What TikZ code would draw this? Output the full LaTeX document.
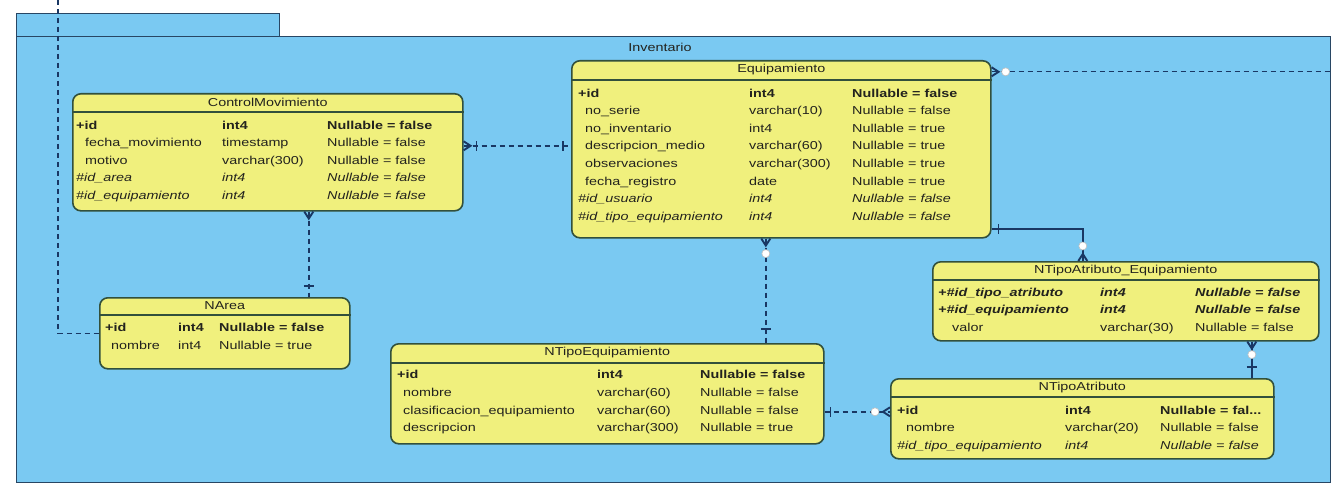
\documentclass[tikz,border=0pt]{standalone}
\usepackage{fontspec}
\setmainfont{Liberation Sans}[FakeStretch=1.25]
\usetikzlibrary{decorations.markings}
\definecolor{pkgfill}{RGB}{122,201,242}
\definecolor{pkgline}{RGB}{40,70,100}
\definecolor{tabfill}{RGB}{240,240,125}
\definecolor{tabline}{RGB}{50,80,60}
\definecolor{connline}{RGB}{25,55,100}
\definecolor{inktext}{RGB}{35,35,30}
\tikzset{
  package/.style={draw=pkgline,fill=pkgfill,line width=1.2pt,anchor=north west,inner sep=0pt},
  entity/.style={draw=tabline,fill=tabfill,line width=1.6pt,rounded corners=8pt,anchor=north west,inner sep=0pt},
  entitytitle/.style={text=inktext,inner sep=0pt,font=\fontsize{11.5}{14}\selectfont},
  entityrows/.style={text=inktext,anchor=north west,inner sep=0pt,font=\fontsize{11.5}{17.6}\selectfont},
  headrule/.style={draw=tabline,line width=1.4pt},
  conn/.style={draw=connline,line width=1.4pt},
  dashconn/.style={conn,dash pattern=on 5pt off 4pt},
  marker/.style={solid,draw=connline,line width=1.9pt},
  ringmark/.style={solid,draw=white!75!black,fill=white,line width=0.6pt},
  foot start/.style={postaction={decorate,decoration={markings,
    mark=at position 0.01pt with {\draw[marker] (0pt,4.5pt) -- (7pt,0pt) -- (0pt,-4.5pt);}}}},
  foot end/.style={postaction={decorate,decoration={markings,
    mark=at position -0.01pt with {\draw[marker] (0pt,4.5pt) -- (-7pt,0pt) -- (0pt,-4.5pt);}}}},
  bar at/.style={postaction={decorate,decoration={markings,
    mark=at position #1 with {\draw[marker,line width=1.4pt] (0pt,-5pt) -- (0pt,5pt);}}}},
  ring at/.style={postaction={decorate,decoration={markings,
    mark=at position #1 with {\draw[ringmark] (0pt,0pt) circle (4pt);}}}}
}

\begin{document}
\begin{tikzpicture}[x=1pt,y=-1pt]
  \useasboundingbox[fill=white] (0,0) rectangle (1335,484);

  % package Inventario
  \node[package,minimum width=263pt,minimum height=23pt] (pkg-tab) at (16,13) {};
  \node[package,minimum width=1314pt,minimum height=446pt] (pkg) at (16,36) {};
  \node[entitytitle] (pkg-label) at (660,47) {Inventario};

  % ControlMovimiento
  \node[entity,minimum width=390pt,minimum height=117pt] (cm) at (72,93) {};
  \node[entitytitle] (cm-title) at ([yshift=-9.5pt]cm.north) {ControlMovimiento};
  \draw[headrule] ([yshift=-19pt]cm.north west) -- ([yshift=-19pt]cm.north east);
  \node[entityrows] (cm-rows) at ([xshift=4pt,yshift=-23.5pt]cm.north west) {%
    \begin{tabular}{@{}p{146pt}@{}p{105pt}@{}l@{}}
      \bfseries +id & \bfseries int4 & \bfseries Nullable = false\\
      \hspace*{9pt}fecha\_movimiento & timestamp & Nullable = false\\
      \hspace*{9pt}motivo & varchar(300) & Nullable = false\\
      \itshape \#id\_area & \itshape int4 & \itshape Nullable = false\\
      \itshape \#id\_equipamiento & \itshape int4 & \itshape Nullable = false
    \end{tabular}};

  % Equipamiento
  \node[entity,minimum width=419pt,minimum height=177pt] (eq) at (571,60) {};
  \node[entitytitle] (eq-title) at ([yshift=-10pt]eq.north) {Equipamiento};
  \draw[headrule] ([yshift=-20pt]eq.north west) -- ([yshift=-20pt]eq.north east);
  \node[entityrows] (eq-rows) at ([xshift=7pt,yshift=-24.6pt]eq.north west) {%
    \begin{tabular}{@{}p{171pt}@{}p{103pt}@{}l@{}}
      \bfseries +id & \bfseries int4 & \bfseries Nullable = false\\
      \hspace*{7pt}no\_serie & varchar(10) & Nullable = false\\
      \hspace*{7pt}no\_inventario & int4 & Nullable = true\\
      \hspace*{7pt}descripcion\_medio & varchar(60) & Nullable = true\\
      \hspace*{7pt}observaciones & varchar(300) & Nullable = true\\
      \hspace*{7pt}fecha\_registro & date & Nullable = true\\
      \itshape \#id\_usuario & \itshape int4 & \itshape Nullable = false\\
      \itshape \#id\_tipo\_equipamiento & \itshape int4 & \itshape Nullable = false
    \end{tabular}};

  % NArea
  \node[entity,minimum width=250pt,minimum height=71pt] (narea) at (99,297) {};
  \node[entitytitle] (narea-title) at ([yshift=-9pt]narea.north) {NArea};
  \draw[headrule] ([yshift=-18pt]narea.north west) -- ([yshift=-18pt]narea.north east);
  \node[entityrows] (narea-rows) at ([xshift=6pt,yshift=-22.4pt]narea.north west) {%
    \begin{tabular}{@{}p{73pt}@{}p{41pt}@{}l@{}}
      \bfseries +id & \bfseries int4 & \bfseries Nullable = false\\
      \hspace*{6pt}nombre & int4 & Nullable = true
    \end{tabular}};

  % NTipoEquipamiento
  \node[entity,minimum width=433pt,minimum height=100pt] (nte) at (390,343) {};
  \node[entitytitle] (nte-title) at ([yshift=-10pt]nte.north) {NTipoEquipamiento};
  \draw[headrule] ([yshift=-20pt]nte.north west) -- ([yshift=-20pt]nte.north east);
  \node[entityrows] (nte-rows) at ([xshift=7pt,yshift=-23.4pt]nte.north west) {%
    \begin{tabular}{@{}p{200pt}@{}p{103pt}@{}l@{}}
      \bfseries +id & \bfseries int4 & \bfseries Nullable = false\\
      \hspace*{6pt}nombre & varchar(60) & Nullable = false\\
      \hspace*{6pt}clasificacion\_equipamiento & varchar(60) & Nullable = false\\
      \hspace*{6pt}descripcion & varchar(300) & Nullable = true
    \end{tabular}};

  % NTipoAtributo_Equipamiento
  \node[entity,minimum width=386pt,minimum height=79pt] (ntae) at (932,261) {};
  \node[entitytitle] (ntae-title) at ([yshift=-9.5pt]ntae.north) {NTipoAtributo\_Equipamiento};
  \draw[headrule] ([yshift=-19pt]ntae.north west) -- ([yshift=-19pt]ntae.north east);
  \node[entityrows] (ntae-rows) at ([xshift=6pt,yshift=-22.6pt]ntae.north west) {%
    \begin{tabular}{@{}p{162pt}@{}p{95pt}@{}l@{}}
      \bfseries\itshape +\#id\_tipo\_atributo & \bfseries\itshape int4 & \bfseries\itshape Nullable = false\\
      \bfseries\itshape +\#id\_equipamiento & \bfseries\itshape int4 & \bfseries\itshape Nullable = false\\
      \hspace*{14pt}valor & varchar(30) & Nullable = false
    \end{tabular}};

  % NTipoAtributo
  \node[entity,minimum width=383pt,minimum height=80pt] (nta) at (890,378) {};
  \node[entitytitle] (nta-title) at ([yshift=-9.5pt]nta.north) {NTipoAtributo};
  \draw[headrule] ([yshift=-19pt]nta.north west) -- ([yshift=-19pt]nta.north east);
  \node[entityrows] (nta-rows) at ([xshift=7pt,yshift=-23.6pt]nta.north west) {%
    \begin{tabular}{@{}p{168pt}@{}p{95pt}@{}l@{}}
      \bfseries +id & \bfseries int4 & \bfseries Nullable = fal...\\
      \hspace*{9pt}nombre & varchar(20) & Nullable = false\\
      \itshape \#id\_tipo\_equipamiento & \itshape int4 & \itshape Nullable = false
    \end{tabular}};

  % relationships
  \coordinate (area-src) at (58,0);
  \draw[dashconn] (area-src) |- (narea.west);
  \draw[dashconn,foot start,bar at=13pt,bar at=-8pt]
    ([yshift=6.5pt]cm.east) -- ([yshift=6.5pt]cm.east -| eq.west);
  \draw[dashconn,foot start,bar at=-11pt]
    ([xshift=41pt]cm.south) -- ([xshift=41pt]cm.south |- narea.north);
  \draw[dashconn,foot start,ring at=15pt,bar at=-14pt]
    ([xshift=-15.5pt]eq.south) -- ([xshift=-15.5pt]eq.south |- nte.north);
  \draw[dashconn,bar at=6pt,ring at=-15pt,foot end]
    ([yshift=-18pt]nte.east) -- ([yshift=-18pt]nte.east -| nta.west);
  \draw[conn,foot start,ring at=13pt,bar at=-11pt]
    ([xshift=126pt]ntae.south) -- ([xshift=126pt]ntae.south |- nta.north);
  \draw[conn,bar at=7pt,ring at=-15pt,foot end]
    ([yshift=-79.5pt]eq.east) -| ([xshift=-43pt]ntae.north);
  \draw[dashconn,foot start,ring at=14pt]
    ([yshift=77.5pt]eq.east) -- ([yshift=77.5pt]eq.east -| pkg.east);
\end{tikzpicture}
\end{document}
